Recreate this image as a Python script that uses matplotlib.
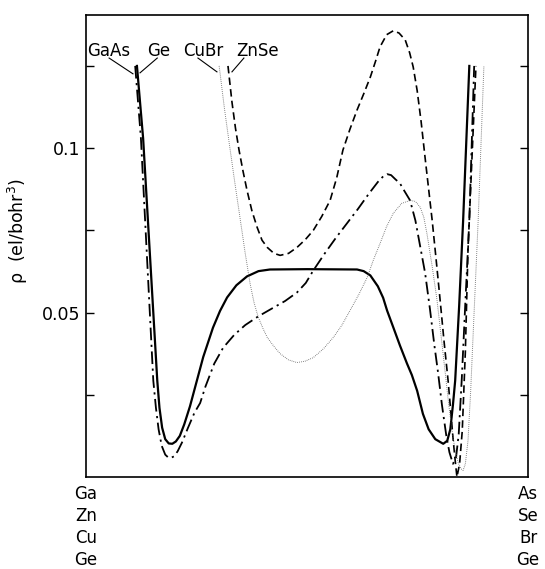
import matplotlib.pyplot as plt

# Valence charge density along the bond, position as fraction of the bond length
ge_x = [0.115, 0.129, 0.161, 0.166, 0.172, 0.179, 0.187, 0.195, 0.203, 0.212, 0.222, 0.235,
        0.250, 0.265, 0.287, 0.303, 0.319, 0.340, 0.364, 0.390, 0.416, 0.500, 0.613, 0.628,
        0.643, 0.660, 0.672, 0.681, 0.695, 0.710, 0.726, 0.737, 0.749, 0.762, 0.775, 0.790,
        0.808, 0.817, 0.824, 0.830, 0.835, 0.844, 0.853, 0.867]
ge_rho = [0.125, 0.103, 0.0293, 0.021, 0.015, 0.0115, 0.0102, 0.0101, 0.0108, 0.0125, 0.016,
          0.0215, 0.029, 0.0365, 0.0454, 0.0505, 0.0546, 0.0583, 0.061, 0.0626, 0.0631, 0.0632,
          0.0631, 0.0626, 0.0613, 0.058, 0.0545, 0.0506, 0.0455, 0.040, 0.0345, 0.031, 0.0262,
          0.0192, 0.0145, 0.0115, 0.0101, 0.0110, 0.0145, 0.022, 0.0293, 0.052, 0.078, 0.125]

gaas_x = [0.111, 0.124, 0.152, 0.158, 0.164, 0.171, 0.179, 0.186, 0.192, 0.199, 0.207, 0.217,
          0.230, 0.245, 0.258, 0.270, 0.290, 0.310, 0.335, 0.360, 0.389, 0.420, 0.450, 0.477,
          0.497, 0.514, 0.540, 0.565, 0.590, 0.615, 0.640, 0.660, 0.672, 0.681, 0.690, 0.700,
          0.710, 0.720, 0.733, 0.745, 0.756, 0.767, 0.778, 0.788, 0.796, 0.805, 0.815, 0.822,
          0.830, 0.837, 0.843, 0.850, 0.858, 0.867, 0.878]
gaas_rho = [0.125, 0.103, 0.0293, 0.021, 0.0145, 0.0095, 0.0068, 0.0059, 0.0058, 0.0063,
            0.0078, 0.0105, 0.0148, 0.0195, 0.0225, 0.0275, 0.0345, 0.0393, 0.0432, 0.0462,
            0.0488, 0.0512, 0.0535, 0.0561, 0.059, 0.0628, 0.068, 0.0727, 0.0771, 0.0815,
            0.0862, 0.0897, 0.0914, 0.0921, 0.0918, 0.0905, 0.0893, 0.087, 0.0841, 0.078, 0.070,
            0.062, 0.051, 0.040, 0.032, 0.022, 0.0125, 0.0075, 0.004, 0.006, 0.013, 0.030,
            0.053, 0.078, 0.125]

znse_x = [0.321, 0.330, 0.338, 0.346, 0.355, 0.364, 0.375, 0.387, 0.398, 0.410, 0.425, 0.439,
          0.458, 0.477, 0.496, 0.514, 0.533, 0.552, 0.567, 0.581, 0.597, 0.613, 0.628, 0.643,
          0.655, 0.665, 0.680, 0.695, 0.708, 0.722, 0.732, 0.740, 0.749, 0.758, 0.767, 0.775,
          0.783, 0.792, 0.801, 0.810, 0.819, 0.825, 0.830, 0.835, 0.839, 0.845, 0.851, 0.858,
          0.864, 0.873, 0.882]
znse_rho = [0.125, 0.114, 0.106, 0.0994, 0.093, 0.0872, 0.081, 0.0759, 0.072, 0.0698, 0.068,
            0.0674, 0.068, 0.0698, 0.0722, 0.075, 0.0792, 0.0841, 0.091, 0.0994, 0.1058, 0.1116,
            0.1165, 0.1216, 0.1265, 0.1308, 0.1345, 0.1357, 0.135, 0.1329, 0.129, 0.1247,
            0.1175, 0.108, 0.097, 0.0875, 0.078, 0.066, 0.0537, 0.041, 0.0293, 0.020, 0.012,
            0.005, 0.0, 0.004, 0.014, 0.038, 0.069, 0.097, 0.125]

cubr_x = [0.301, 0.313, 0.326, 0.337, 0.348, 0.360, 0.371, 0.380, 0.389, 0.400, 0.410, 0.425,
          0.439, 0.458, 0.477, 0.495, 0.514, 0.537, 0.559, 0.578, 0.597, 0.617, 0.636, 0.650,
          0.665, 0.680, 0.695, 0.714, 0.733, 0.745, 0.756, 0.764, 0.771, 0.783, 0.794, 0.803,
          0.812, 0.820, 0.828, 0.835, 0.842, 0.848, 0.853, 0.858, 0.864, 0.870, 0.876, 0.887,
          0.900]
cubr_rho = [0.125, 0.112, 0.0994, 0.089, 0.079, 0.068, 0.0588, 0.053, 0.0488, 0.0452, 0.0424,
            0.0397, 0.0375, 0.0356, 0.0348, 0.0352, 0.0363, 0.039, 0.0424, 0.046, 0.0506,
            0.0555, 0.0607, 0.066, 0.071, 0.0762, 0.0802, 0.0832, 0.0841, 0.0838, 0.082, 0.079,
            0.0741, 0.064, 0.0537, 0.043, 0.0323, 0.0225, 0.014, 0.008, 0.0043, 0.0025, 0.002,
            0.004, 0.011, 0.026, 0.0445, 0.078, 0.125]

left_atoms = ["Ga", "Zn", "Cu", "Ge"]
right_atoms = ["As", "Se", "Br", "Ge"]

# compound labels: text position and leader line ends
labels = ["GaAs", "Ge", "CuBr", "ZnSe"]
label_x = [0.052, 0.165, 0.265, 0.389]
leader_start = [(0.052, 0.1274), (0.161, 0.1274), (0.253, 0.1274), (0.357, 0.1274)]
leader_end = [(0.106, 0.1226), (0.122, 0.1229), (0.296, 0.1232), (0.330, 0.1232)]

fig = plt.figure(figsize=(5.45, 5.69), dpi=100)
ax = fig.add_axes([0.158, 0.1617, 0.811, 0.812])

ax.plot(ge_x, ge_rho, color='black', lw=1.6, ls='-')
ax.plot(gaas_x, gaas_rho, color='black', lw=1.3, ls=(0, (7, 2.5, 1.2, 2.5)))
ax.plot(znse_x, znse_rho, color='black', lw=1.2, ls=(0, (4.5, 2.5)))
ax.plot(cubr_x, cubr_rho, color='#555555', lw=0.7, ls=(0, (0.7, 1.3)))

for lab, lx, (x0, y0), (x1, y1) in zip(labels, label_x, leader_start, leader_end):
    ax.text(lx, 0.1295, lab, ha='center', va='center', fontsize=12)
    ax.plot([x0, x1], [y0, y1], color='black', lw=0.8)

ax.set_xlim(0, 1)
ax.set_ylim(0, 0.1405)
ax.set_xticks([])
ax.set_yticks([0.025, 0.05, 0.075, 0.1, 0.125])
ax.set_yticklabels(['', '0.05', '', '0.1', ''], fontsize=12.5)
ax.tick_params(axis='y', direction='in', length=6, width=1, left=True, right=True, pad=4)
for sp in ax.spines.values():
    sp.set_linewidth(1.2)

ax.set_ylabel('ρ  (el/bohr$^{3}$)', fontsize=12.5)
ax.yaxis.set_label_coords(-0.127, 0.532)

# atom names under the two ends of the bond
for i, (la, ra) in enumerate(zip(left_atoms, right_atoms)):
    yy = -0.0052 - i * 0.0067
    ax.text(0.0, yy, la, ha='center', va='center', fontsize=12)
    ax.text(1.0, yy, ra, ha='center', va='center', fontsize=12)

fig.savefig('out.png', dpi=100)
